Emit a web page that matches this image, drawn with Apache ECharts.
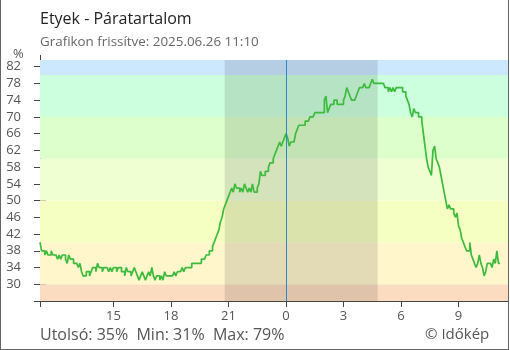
<!DOCTYPE html>
<html>
<head>
<meta charset="utf-8">
<script src="https://cdn.jsdelivr.net/npm/echarts@6/dist/echarts.min.js"></script>
<style>html,body{margin:0;padding:0;background:#fff;}#c{width:510px;height:350px;}</style>
</head>
<body>
<div id="c"></div>
<script>
// ---- data ----
const titleText = 'Etyek - Páratartalom';
const subtitleText = 'Grafikon frissítve: 2025.06.26 11:10';
const footerText = 'Utolsó: 35%  Min: 31%  Max: 79%';
const creditText = '© Időkép';
// time of first sample, in hours relative to midnight (11:10 previous day), 5-minute steps
const startHour = -(12 + 50 / 60);
const stepMinutes = 5;
const humidity = [
  40, 38, 38, 37, 38, 37, 37, 38, 37, 37, 37, 36, 37, 36, 37, 37, 36, 35, 37, 36,
  36, 35, 35, 35, 34, 35, 33, 32, 32, 33, 33, 32, 33, 34, 34, 33, 35, 34, 34, 33,
  34, 34, 34, 33, 34, 33, 34, 34, 33, 34, 34, 33, 33, 32, 34, 33, 33, 32, 33, 34,
  33, 32, 31, 32, 33, 32, 31, 32, 33, 32, 34, 32, 31, 32, 32, 31, 32, 31, 33, 32,
  32, 32, 32, 32, 33, 32, 33, 33, 33, 34, 33, 34, 34, 34, 34, 35, 35, 35, 35, 35,
  35, 36, 36, 36, 37, 37, 38, 38, 39, 40, 41, 42, 43, 45, 46, 48, 49, 50, 51, 52,
  53, 52, 54, 53, 53, 52, 53, 52, 54, 53, 52, 53, 52, 54, 52, 52, 53, 54, 57, 56,
  56, 57, 57, 58, 59, 59, 60, 61, 62, 63, 64, 63, 64, 65, 66, 65, 63, 64, 64, 64,
  66, 67, 68, 68, 68, 68, 69, 69, 69, 70, 70, 70, 71, 71, 71, 71, 71, 71, 74, 75,
  71, 72, 73, 73, 74, 74, 73, 73, 73, 73, 74, 75, 77, 76, 75, 74, 74, 74, 75, 76,
  77, 77, 77, 78, 77, 77, 77, 78, 79, 78, 78, 78, 78, 78, 78, 78, 77, 77, 76, 77,
  76, 77, 76, 77, 77, 77, 77, 76, 76, 75, 74, 73, 71, 70, 72, 71, 71, 70, 70, 69,
  66, 63, 60, 58, 57, 56, 62, 63, 60, 59, 58, 56, 54, 52, 50, 48, 49, 48, 48, 47,
  46, 47, 44, 43, 41, 40, 39, 38, 38, 40, 37, 36, 35, 34, 35, 37, 35, 34, 32, 33,
  35, 35, 35, 34, 36, 35, 38, 35, 35
];
const xTickHours = [-9, -6, -3, 0, 3, 6, 9];
const yTickValues = [30, 34, 38, 42, 46, 50, 54, 58, 62, 66, 70, 74, 78, 82];
const bandEdges = [26, 30, 40, 50, 60, 70, 80, 83.6];
const bandColors = ['#fcdcc0', '#fff6cc', '#f6ffc2', '#efffd2', '#ddffcc', '#ccffdd', '#cce8ff'];
const nightStart = -3.2;   // 20:48
const nightEnd = 4.78;     // 04:47
const xMin = startHour, xMax = 11.58, yMin = 26, yMax = 83.6;

// ---- build ----
const seriesData = humidity.map((v, i) => [startHour + i * stepMinutes / 60, v]);
const FONT = 'Open Sans';
const bandAreas = bandColors.map((c, i) => [
  { yAxis: bandEdges[i], itemStyle: { color: c } },
  { yAxis: bandEdges[i + 1] }
]);
const hourLabel = h => String(((Math.round(h) % 24) + 24) % 24);
const AX = '#444';

const chart = echarts.init(document.getElementById('c'), null, { renderer: 'canvas' });
chart.setOption({
  animation: false,
  backgroundColor: '#fff',
  title: [
    { text: titleText, left: 35, top: 6, textStyle: { fontFamily: FONT, fontSize: 16, fontWeight: 'normal', color: '#222' } },
    { text: subtitleText, left: 35, top: 31, textStyle: { fontFamily: FONT, fontSize: 13.4, fontWeight: 'normal', color: '#666' } },
    { text: footerText, left: 35, top: 322, textStyle: { fontFamily: FONT, fontSize: 16, fontWeight: 'normal', color: '#555' } },
    { text: creditText, left: 420, top: 322, textStyle: { fontFamily: FONT, fontSize: 15, fontWeight: 'normal', color: '#555' } },
    { text: '%', left: 8, top: 43, textStyle: { fontFamily: FONT, fontSize: 13, fontWeight: 'normal', color: '#555' } }
  ],
  grid: { left: 40, top: 60, right: 2, bottom: 49, containLabel: false },
  xAxis: [
    {
      type: 'value', min: xMin, max: xMax, position: 'bottom',
      axisLine: { show: true, onZero: false, lineStyle: { color: AX, width: 1 } },
      axisTick: { show: true, length: 6, inside: false, interval: 0, customValues: [xMin].concat(xTickHours), lineStyle: { color: AX } },
      axisLabel: { show: true, customValues: xTickHours, formatter: hourLabel, margin: 9, fontFamily: FONT, fontSize: 13, color: '#555' },
      splitLine: { show: false }
    },
    {
      type: 'value', min: xMin, max: xMax, position: 'bottom',
      axisLine: { show: false, onZero: false },
      axisTick: { show: true, length: 6, inside: true, interval: 0, customValues: xTickHours, lineStyle: { color: AX } },
      axisLabel: { show: false },
      splitLine: { show: false }
    }
  ],
  yAxis: [
    {
      type: 'value', min: yMin, max: yMax, position: 'left',
      axisLine: { show: true, onZero: false, lineStyle: { color: AX, width: 1 } },
      axisTick: { show: true, length: 6, inside: false, interval: 0, customValues: [26].concat(yTickValues), lineStyle: { color: AX } },
      axisLabel: { show: true, customValues: yTickValues, margin: 19, fontFamily: FONT, fontSize: 13, color: '#555' },
      splitLine: { show: false }
    },
    {
      type: 'value', min: yMin, max: yMax, position: 'left',
      axisLine: { show: false, onZero: false },
      axisTick: { show: true, length: 6, inside: true, interval: 0, customValues: yTickValues, lineStyle: { color: AX } },
      axisLabel: { show: false },
      splitLine: { show: false }
    }
  ],
  graphic: [
    { type: 'line', shape: { x1: 40.5, y1: 55, x2: 40.5, y2: 60 }, style: { stroke: AX, lineWidth: 1 } },
    { type: 'line', shape: { x1: 0.5, y1: 0, x2: 0.5, y2: 349.5 }, style: { stroke: '#666', lineWidth: 1 } },
    { type: 'line', shape: { x1: 0, y1: 349.5, x2: 509, y2: 349.5 }, style: { stroke: '#666', lineWidth: 1 } },
    { type: 'line', shape: { x1: 508.5, y1: 0, x2: 508.5, y2: 349.5 }, style: { stroke: '#666', lineWidth: 1 } }
  ],
  series: [
    {
      type: 'line', data: [], z: 1, silent: true,
      markArea: { silent: true, data: bandAreas }
    },
    {
      type: 'line', data: [], z: 2, silent: true,
      markArea: { silent: true, itemStyle: { color: 'rgba(0,0,0,0.11)' }, data: [[{ xAxis: nightStart }, { xAxis: nightEnd }]] }
    },
    {
      type: 'line', data: seriesData, z: 4, step: 'end', showSymbol: false, symbol: 'none',
      lineStyle: { color: '#3dbb3d', width: 1.7 },
      markLine: {
        silent: true, symbol: 'none', label: { show: false },
        lineStyle: { color: '#2f87c8', width: 1, type: 'solid' },
        data: [{ xAxis: 0 }]
      }
    }
  ]
});
</script>
</body>
</html>
